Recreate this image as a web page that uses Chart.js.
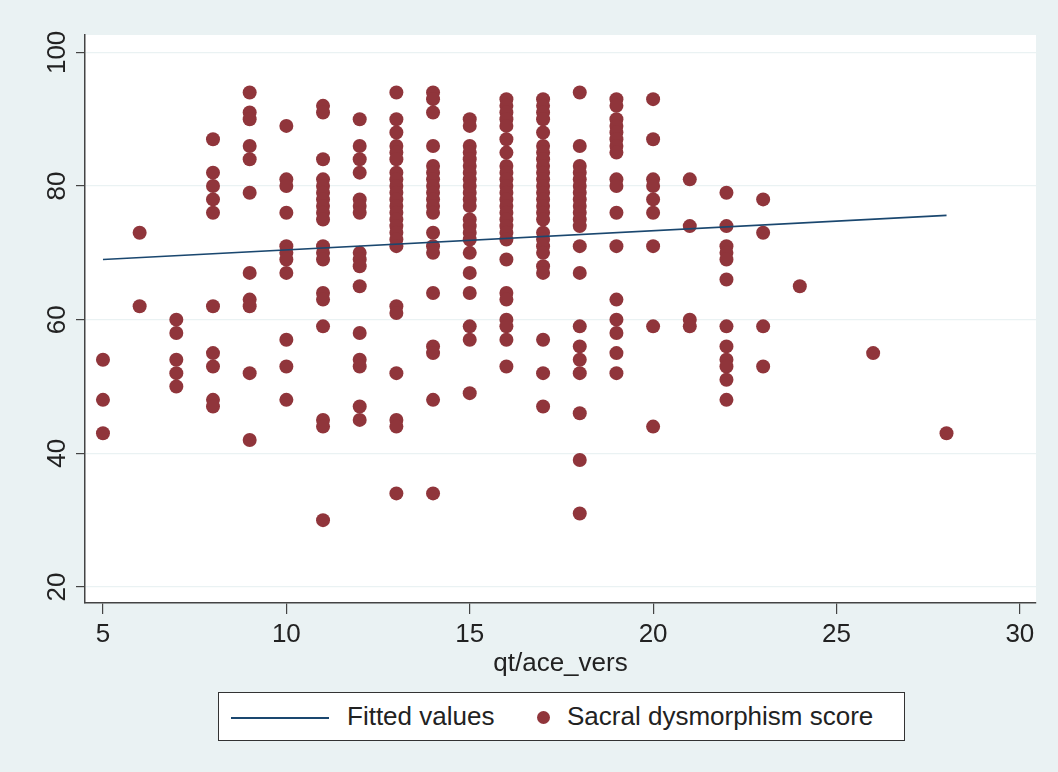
<!DOCTYPE html>
<html>
  <head>
    <meta charset="utf-8">
    <title>Sacral dysmorphism score vs qt/ace_vers</title>
    <style>
      body { margin: 0; background: #eaf2f3; font-family: "Liberation Sans", Arial, sans-serif; }
      #wrap { position: relative; width: 1058px; height: 772px; }
      #legend {
        position: absolute; left: 218px; top: 692px; width: 685px; height: 47px;
        background: #fff; border: 1px solid #333; box-sizing: content-box;
        font-size: 26px; color: #222;
      }
      #legend .line { position: absolute; left: 12px; top: 24px; width: 98px; height: 2px; background: #1a476f; }
      #legend .lbl { position: absolute; top: 8px; line-height: 30px; white-space: nowrap; }
      #legend .dot { position: absolute; left: 318px; top: 18px; width: 13px; height: 13px; border-radius: 50%; background: #90353b; }
    </style>
  </head>
  <body>
    <div id="wrap">
      <canvas id="chart" width="1058" height="772"></canvas>
      <div id="legend">
        <div class="line"></div>
        <div class="lbl" style="left:128px">Fitted values</div>
        <div class="dot"></div>
        <div class="lbl" style="left:348px">Sacral dysmorphism score</div>
      </div>
    </div>

    <script src="https://cdn.jsdelivr.net/npm/chart.js"></script>
    <script>
      // qt/ace_vers values (x) and the scores observed at each of them
      const qtValues = [5, 6, 7, 8, 9, 10, 11, 12, 13, 14, 15, 16, 17, 18, 19, 20, 21, 22, 23, 24, 26, 28];
      const scoresByQt = [
        [54, 48, 43],
        [73, 62],
        [60, 58, 54, 52, 50],
        [87, 82, 80, 78, 76, 62, 55, 53, 48, 47],
        [94, 91, 90, 86, 84, 79, 67, 63, 62, 52, 42],
        [89, 81, 80, 76, 71, 70, 69, 67, 57, 53, 48],
        [92, 91, 84, 81, 80, 79, 78, 77, 76, 75, 71, 70, 69, 64, 63, 59, 45, 44, 30],
        [90, 86, 84, 82, 78, 77, 76, 70, 69, 68, 65, 58, 54, 53, 47, 45],
        [94, 90, 88, 86, 85, 84, 82, 81, 80, 79, 78, 77, 76, 75, 74, 73, 72, 71, 62, 61, 52, 45, 44, 34],
        [94, 93, 91, 86, 83, 82, 81, 80, 79, 78, 77, 76, 73, 71, 70, 64, 56, 55, 48, 34],
        [90, 89, 86, 85, 84, 83, 82, 81, 80, 79, 78, 77, 75, 74, 73, 72, 70, 67, 64, 59, 57, 49],
        [93, 92, 91, 90, 89, 87, 85, 83, 82, 81, 80, 79, 78, 77, 76, 75, 74, 73, 72, 69, 64, 63, 60, 59, 57, 53],
        [93, 92, 91, 90, 88, 86, 85, 84, 83, 82, 81, 80, 79, 78, 77, 76, 75, 73, 72, 71, 70, 68, 67, 57, 52, 47],
        [94, 86, 83, 82, 81, 80, 79, 78, 77, 76, 75, 74, 71, 67, 59, 56, 54, 52, 46, 39, 31],
        [93, 92, 90, 89, 88, 87, 86, 85, 81, 80, 76, 71, 63, 60, 58, 55, 52],
        [93, 87, 81, 80, 78, 76, 71, 59, 44],
        [81, 74, 60, 59],
        [79, 74, 71, 70, 69, 66, 59, 56, 54, 53, 51, 48],
        [78, 73, 59, 53],
        [65],
        [55],
        [43]
      ];
      // fitted regression line end points
      const fitX = [5, 28];
      const fitY = [69.0, 75.6];
      const xTicks = [5, 10, 15, 20, 25, 30];
      const yTicks = [20, 40, 60, 80, 100];

      const scatterPoints = [];
      qtValues.forEach(function(q, i) {
        scoresByQt[i].forEach(function(s) { scatterPoints.push({x: q, y: s}); });
      });
      const fitPoints = fitX.map(function(x, i) { return {x: x, y: fitY[i]}; });

      const FONT = '"Liberation Sans", Arial, sans-serif';

      const backdrop = {
        id: 'backdrop',
        beforeDraw: function(chart) {
          const ctx = chart.ctx, a = chart.chartArea;
          ctx.save();
          ctx.fillStyle = '#eaf2f3';
          ctx.fillRect(0, 0, chart.width, chart.height);
          ctx.fillStyle = '#ffffff';
          ctx.fillRect(a.left, a.top, a.right - a.left, a.bottom - a.top);
          ctx.restore();
        },
        afterDraw: function(chart) {
          // rotated y tick labels, read bottom to top
          const ctx = chart.ctx, y = chart.scales.y;
          ctx.save();
          ctx.fillStyle = '#222';
          ctx.font = '26px ' + FONT;
          ctx.textAlign = 'center';
          ctx.textBaseline = 'middle';
          yTicks.forEach(function(t) {
            ctx.save();
            ctx.translate(58, y.getPixelForValue(t));
            ctx.rotate(-Math.PI / 2);
            ctx.fillText(String(t), 0, 0);
            ctx.restore();
          });
          ctx.restore();
        }
      };

      new Chart(document.getElementById('chart'), {
        type: 'scatter',
        data: {
          datasets: [
            {
              type: 'line',
              label: 'Fitted values',
              data: fitPoints,
              borderColor: '#1a476f',
              borderWidth: 1.6,
              pointRadius: 0,
              fill: false
            },
            {
              label: 'Sacral dysmorphism score',
              data: scatterPoints,
              backgroundColor: '#90353b',
              borderColor: '#90353b',
              borderWidth: 0,
              pointRadius: 7,
              pointHoverRadius: 7
            }
          ]
        },
        options: {
          responsive: false,
          animation: false,
          layout: { padding: { left: 0, top: 35, right: 22, bottom: 82 } },
          plugins: { legend: { display: false }, tooltip: { enabled: false } },
          scales: {
            x: {
              type: 'linear',
              min: 4.51,
              max: 30.44,
              afterBuildTicks: function(s) { s.ticks = xTicks.map(function(v) { return {value: v}; }); },
              afterFit: function(s) { s.height = 87; },
              grid: { drawOnChartArea: false, tickColor: '#444', tickLength: 11, lineWidth: 1.2 },
              border: { color: '#444', width: 1.5 },
              ticks: { color: '#222', font: { family: FONT, size: 26 }, padding: 5, maxRotation: 0 },
              title: {
                display: true,
                text: 'qt/ace_vers',
                color: '#222',
                font: { family: FONT, size: 26 },
                padding: { top: 0, bottom: 11 }
              }
            },
            y: {
              type: 'linear',
              min: 17.6,
              max: 102.6,
              afterBuildTicks: function(s) { s.ticks = yTicks.map(function(v) { return {value: v}; }); },
              afterFit: function(s) { s.width = 85; },
              grid: { color: '#eaf2f3', lineWidth: 1.2, tickColor: '#444', tickLength: 9 },
              border: { color: '#444', width: 1.5 },
              ticks: { display: false }
            }
          }
        },
        plugins: [backdrop]
      });
    </script>
  </body>
</html>
